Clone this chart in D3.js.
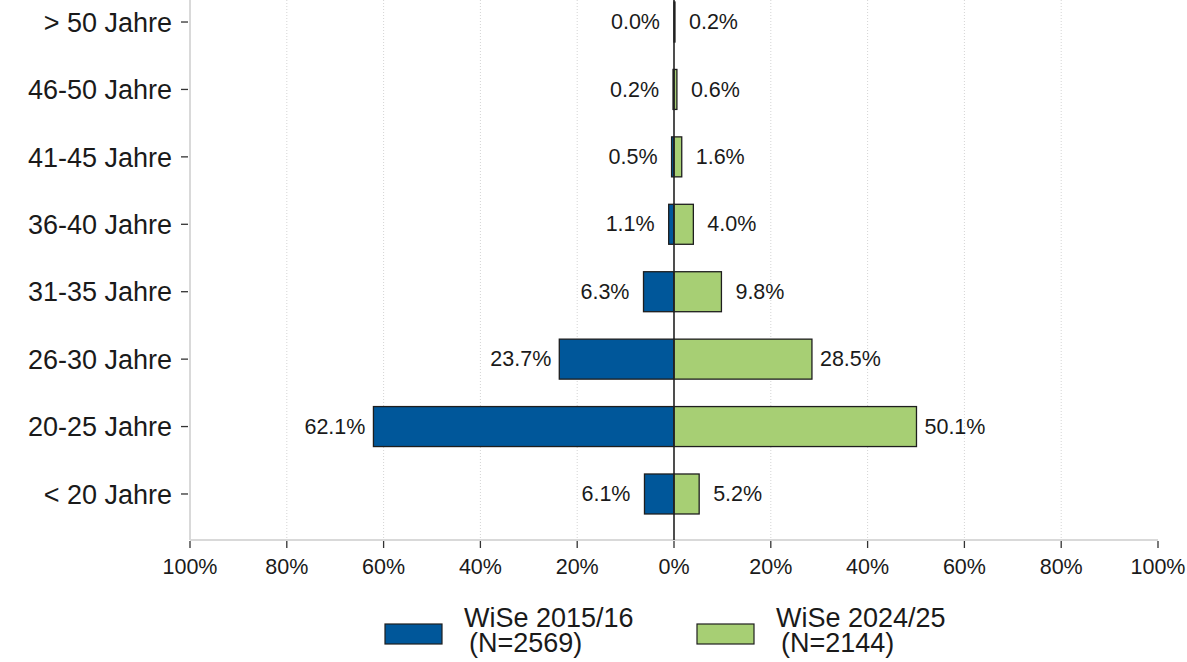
<!DOCTYPE html>
<html>
<head>
<meta charset="utf-8">
<script src="https://cdn.jsdelivr.net/npm/d3@7"></script>
<style>
    body { margin: 0; background: #fff; }
    svg { display: block; font-family: "Liberation Sans", Arial, sans-serif; }
</style>
</head>
<body>
<svg id="chart" width="1187" height="662"></svg>
<script>
// Age groups, top to bottom
const categories = ["> 50 Jahre", "46-50 Jahre", "41-45 Jahre", "36-40 Jahre",
    "31-35 Jahre", "26-30 Jahre", "20-25 Jahre", "< 20 Jahre"];

// Shares in percent
const wise2015 = [0.0, 0.2, 0.5, 1.1, 6.3, 23.7, 62.1, 6.1];
const wise2024 = [0.2, 0.6, 1.6, 4.0, 9.8, 28.5, 50.1, 5.2];

const xTicks = [-100, -80, -60, -40, -20, 0, 20, 40, 60, 80, 100];
const seriesNames = [["WiSe 2015/16", "(N=2569)"], ["WiSe 2024/25", "(N=2144)"]];
const colors = ["#00579a", "#a7cf74"];

const svg = d3.select("#chart");
const left = 190, right = 1158, bottom = 540;
const textColor = "#1a1a1a";

const x = d3.scaleLinear().domain([-100, 100]).range([left, right]);
const y = d3.scaleBand().domain(categories).range([-24, bottom])
    .paddingInner(0.407).paddingOuter(0.386);
const yMid = d => y(d) + y.bandwidth() / 2;

// dotted grid
svg.append("g")
    .selectAll("line")
    .data(xTicks.filter(t => t !== 0 && Math.abs(t) !== 100))
    .join("line")
    .attr("x1", d => x(d)).attr("x2", d => x(d))
    .attr("y1", 0).attr("y2", bottom)
    .attr("stroke", "#d4d4d4")
    .attr("stroke-width", 1)
    .attr("stroke-dasharray", "1,2");

// left axis line + bottom axis line
svg.append("line")
    .attr("x1", left).attr("x2", left).attr("y1", 0).attr("y2", bottom)
    .attr("stroke", "#d9d9d9").attr("stroke-width", 2);
svg.append("line")
    .attr("x1", left).attr("x2", right).attr("y1", bottom).attr("y2", bottom)
    .attr("stroke", "#d9d9d9").attr("stroke-width", 2);

// x ticks
const xg = svg.append("g");
xg.selectAll("line")
    .data(xTicks)
    .join("line")
    .attr("x1", d => x(d)).attr("x2", d => x(d))
    .attr("y1", bottom + 1).attr("y2", bottom + 8)
    .attr("stroke", "#333").attr("stroke-width", 1.3);
xg.selectAll("text")
    .data(xTicks)
    .join("text")
    .attr("x", d => x(d))
    .attr("y", 574)
    .attr("text-anchor", "middle")
    .attr("font-size", 21.5)
    .attr("fill", textColor)
    .text(d => Math.abs(d) + "%");

// y ticks
const yg = svg.append("g");
yg.selectAll("line")
    .data(categories)
    .join("line")
    .attr("x1", 181).attr("x2", 188)
    .attr("y1", yMid).attr("y2", yMid)
    .attr("stroke", "#333").attr("stroke-width", 1.3);
yg.selectAll("text")
    .data(categories)
    .join("text")
    .attr("x", 172)
    .attr("y", yMid)
    .attr("dy", "0.36em")
    .attr("text-anchor", "end")
    .attr("font-size", 27)
    .attr("fill", textColor)
    .text(d => d);

// bars
const rows = categories.map((c, i) => ({ cat: c, a: wise2015[i], b: wise2024[i] }));

svg.append("g")
    .selectAll("rect")
    .data(rows)
    .join("rect")
    .attr("x", d => x(-d.a))
    .attr("width", d => x(0) - x(-d.a))
    .attr("y", d => y(d.cat))
    .attr("height", y.bandwidth())
    .attr("fill", colors[0])
    .attr("stroke", "#1e1e1e").attr("stroke-width", 1.3);

svg.append("g")
    .selectAll("rect")
    .data(rows)
    .join("rect")
    .attr("x", x(0))
    .attr("width", d => x(d.b) - x(0))
    .attr("y", d => y(d.cat))
    .attr("height", y.bandwidth())
    .attr("fill", colors[1])
    .attr("stroke", "#1e1e1e").attr("stroke-width", 1.3);

// zero line
svg.append("line")
    .attr("x1", x(0)).attr("x2", x(0)).attr("y1", 0).attr("y2", bottom)
    .attr("stroke", "#222").attr("stroke-width", 1.6);

// value labels (small bars get a wider gap, as in the original)
const gap = v => v < 15 ? 14 : 8;
const lab = svg.append("g").attr("font-size", 21.5).attr("fill", textColor);
lab.selectAll("text.l")
    .data(rows)
    .join("text")
    .attr("class", "l")
    .attr("x", d => x(-d.a) - gap(d.a))
    .attr("y", d => yMid(d.cat))
    .attr("dy", "0.33em")
    .attr("text-anchor", "end")
    .text(d => d.a.toFixed(1) + "%");
lab.selectAll("text.r")
    .data(rows)
    .join("text")
    .attr("class", "r")
    .attr("x", d => x(d.b) + gap(d.b))
    .attr("y", d => yMid(d.cat))
    .attr("dy", "0.33em")
    .attr("text-anchor", "start")
    .text(d => d.b.toFixed(1) + "%");

// legend
const legX = [385, 697];
const leg = svg.append("g");
seriesNames.forEach((s, i) => {
    const g = leg.append("g").attr("transform", `translate(${legX[i]},0)`);
    g.append("rect")
        .attr("x", 0).attr("y", 624).attr("width", 57).attr("height", 20)
        .attr("fill", colors[i]).attr("stroke", "#1e1e1e").attr("stroke-width", 1.2);
    g.append("text")
        .attr("x", 79).attr("y", 627)
        .attr("font-size", 27).attr("fill", textColor)
        .text(s[0]);
    g.append("text")
        .attr("x", 84).attr("y", 652)
        .attr("font-size", 27).attr("fill", textColor)
        .text(s[1]);
});
</script>
</body>
</html>
